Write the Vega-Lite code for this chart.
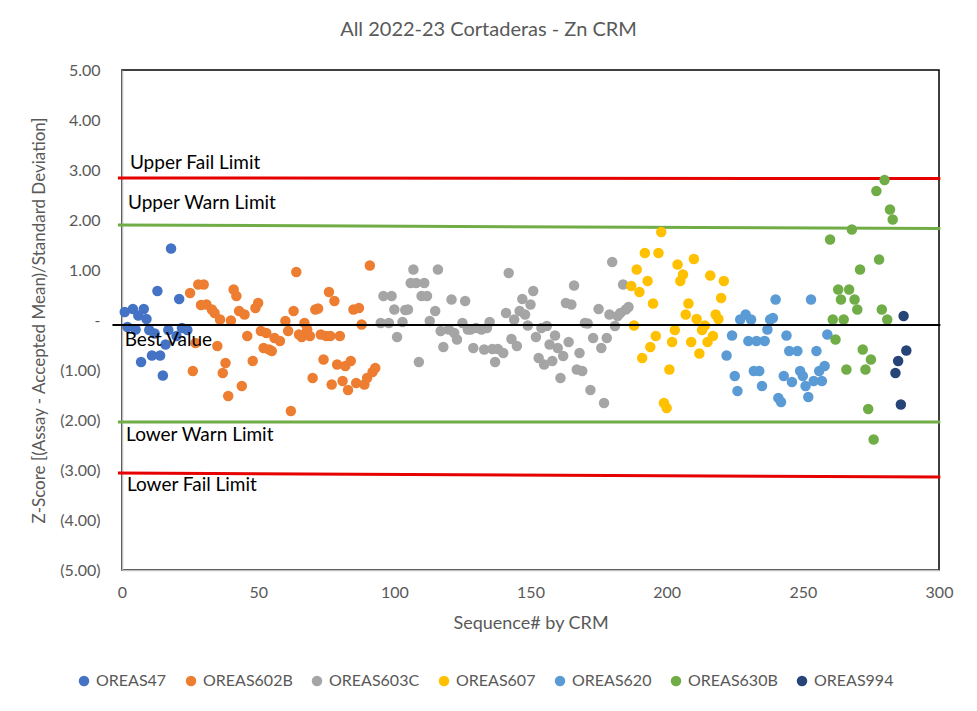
{
"$schema": "https://vega.github.io/schema/vega-lite/v6.json",
"width": 817, "height": 500,
"autosize": {"type": "none"},
"padding": {"left": 122, "top": 70, "right": 38, "bottom": 141},
"background": "white",
"config": {"view": {"stroke": "black", "strokeWidth": 1.5}, "font": "Lato"},
"title": {"text": "All 2022-23 Cortaderas - Zn CRM", "fontSize": 20, "font": "Lato", "color": "#595959", "fontWeight": "normal", "anchor": "middle", "dx": -42, "offset": 22},
"datasets": {
"pts": [
{"crm":"OREAS47","seq":1,"z":0.16},{"crm":"OREAS47","seq":2,"z":-0.14},{"crm":"OREAS47","seq":4,"z":0.22},{"crm":"OREAS47","seq":5,"z":-0.19},{"crm":"OREAS47","seq":6,"z":0.09},{"crm":"OREAS47","seq":7,"z":-0.84},{"crm":"OREAS47","seq":8,"z":0.22},{"crm":"OREAS47","seq":9,"z":0.02},{"crm":"OREAS47","seq":10,"z":-0.2},{"crm":"OREAS47","seq":11,"z":-0.71},{"crm":"OREAS47","seq":12,"z":-0.27},{"crm":"OREAS47","seq":13,"z":0.58},{"crm":"OREAS47","seq":14,"z":-0.71},{"crm":"OREAS47","seq":15,"z":-1.11},{"crm":"OREAS47","seq":16,"z":-0.49},{"crm":"OREAS47","seq":17,"z":-0.2},{"crm":"OREAS47","seq":18,"z":1.43},{"crm":"OREAS47","seq":20,"z":-0.32},{"crm":"OREAS47","seq":21,"z":0.42},{"crm":"OREAS47","seq":22,"z":-0.16},{"crm":"OREAS47","seq":24,"z":-0.2},
{"crm":"OREAS602B","seq":25,"z":0.54},{"crm":"OREAS602B","seq":26,"z":-1.02},{"crm":"OREAS602B","seq":27,"z":-0.46},{"crm":"OREAS602B","seq":28,"z":0.71},{"crm":"OREAS602B","seq":29,"z":0.3},{"crm":"OREAS602B","seq":30,"z":0.71},{"crm":"OREAS602B","seq":31,"z":0.31},{"crm":"OREAS602B","seq":33,"z":0.21},{"crm":"OREAS602B","seq":34,"z":0.14},{"crm":"OREAS602B","seq":35,"z":-0.52},{"crm":"OREAS602B","seq":36,"z":0.01},{"crm":"OREAS602B","seq":37,"z":-1.06},{"crm":"OREAS602B","seq":38,"z":-0.86},{"crm":"OREAS602B","seq":39,"z":-1.52},{"crm":"OREAS602B","seq":40,"z":-0.01},{"crm":"OREAS602B","seq":41,"z":0.61},{"crm":"OREAS602B","seq":42,"z":0.48},{"crm":"OREAS602B","seq":43,"z":0.18},{"crm":"OREAS602B","seq":44,"z":-1.32},{"crm":"OREAS602B","seq":45,"z":0.11},{"crm":"OREAS602B","seq":46,"z":-0.32},{"crm":"OREAS602B","seq":48,"z":-0.82},{"crm":"OREAS602B","seq":49,"z":0.24},{"crm":"OREAS602B","seq":50,"z":0.34},{"crm":"OREAS602B","seq":51,"z":-0.22},{"crm":"OREAS602B","seq":52,"z":-0.56},{"crm":"OREAS602B","seq":53,"z":-0.26},{"crm":"OREAS602B","seq":54,"z":-0.59},{"crm":"OREAS602B","seq":55,"z":-0.62},{"crm":"OREAS602B","seq":56,"z":-0.36},{"crm":"OREAS602B","seq":58,"z":-0.42},{"crm":"OREAS602B","seq":60,"z":-0.02},{"crm":"OREAS602B","seq":61,"z":-0.22},{"crm":"OREAS602B","seq":62,"z":-1.82},{"crm":"OREAS602B","seq":63,"z":0.18},{"crm":"OREAS602B","seq":64,"z":0.96},{"crm":"OREAS602B","seq":65,"z":-0.29},{"crm":"OREAS602B","seq":66,"z":-0.34},{"crm":"OREAS602B","seq":67,"z":-0.06},{"crm":"OREAS602B","seq":68,"z":-0.19},{"crm":"OREAS602B","seq":69,"z":-0.32},{"crm":"OREAS602B","seq":70,"z":-1.16},{"crm":"OREAS602B","seq":71,"z":0.21},{"crm":"OREAS602B","seq":72,"z":0.23},{"crm":"OREAS602B","seq":73,"z":-0.29},{"crm":"OREAS602B","seq":74,"z":-0.79},{"crm":"OREAS602B","seq":75,"z":-0.32},{"crm":"OREAS602B","seq":76,"z":0.56},{"crm":"OREAS602B","seq":76.5,"z":-0.32},{"crm":"OREAS602B","seq":77,"z":-1.29},{"crm":"OREAS602B","seq":78,"z":0.38},{"crm":"OREAS602B","seq":79,"z":-0.89},{"crm":"OREAS602B","seq":80,"z":-0.32},{"crm":"OREAS602B","seq":81,"z":-1.22},{"crm":"OREAS602B","seq":82,"z":-0.92},{"crm":"OREAS602B","seq":83,"z":-1.4},{"crm":"OREAS602B","seq":84,"z":-0.82},{"crm":"OREAS602B","seq":85,"z":0.21},{"crm":"OREAS602B","seq":86,"z":-1.26},{"crm":"OREAS602B","seq":87,"z":0.24},{"crm":"OREAS602B","seq":88,"z":-0.09},{"crm":"OREAS602B","seq":89,"z":-1.29},{"crm":"OREAS602B","seq":90,"z":-1.16},{"crm":"OREAS602B","seq":91,"z":1.09},{"crm":"OREAS602B","seq":92,"z":-1.04},{"crm":"OREAS602B","seq":93,"z":-0.96},
{"crm":"OREAS603C","seq":95,"z":-0.06},{"crm":"OREAS603C","seq":96,"z":0.48},{"crm":"OREAS603C","seq":98,"z":-0.06},{"crm":"OREAS603C","seq":99,"z":0.48},{"crm":"OREAS603C","seq":100,"z":0.21},{"crm":"OREAS603C","seq":101,"z":-0.34},{"crm":"OREAS603C","seq":103,"z":-0.04},{"crm":"OREAS603C","seq":104,"z":0.2},{"crm":"OREAS603C","seq":105,"z":0.21},{"crm":"OREAS603C","seq":106,"z":0.74},{"crm":"OREAS603C","seq":107,"z":1.01},{"crm":"OREAS603C","seq":108,"z":0.74},{"crm":"OREAS603C","seq":109,"z":-0.84},{"crm":"OREAS603C","seq":110,"z":0.48},{"crm":"OREAS603C","seq":111,"z":0.74},{"crm":"OREAS603C","seq":112,"z":0.48},{"crm":"OREAS603C","seq":113,"z":-0.02},{"crm":"OREAS603C","seq":115,"z":0.18},{"crm":"OREAS603C","seq":116,"z":1.01},{"crm":"OREAS603C","seq":117,"z":-0.22},{"crm":"OREAS603C","seq":118,"z":-0.54},{"crm":"OREAS603C","seq":120,"z":-0.19},{"crm":"OREAS603C","seq":121,"z":0.41},{"crm":"OREAS603C","seq":122,"z":-0.26},{"crm":"OREAS603C","seq":123,"z":-0.39},{"crm":"OREAS603C","seq":125,"z":-0.06},{"crm":"OREAS603C","seq":126,"z":0.38},{"crm":"OREAS603C","seq":127,"z":-0.19},{"crm":"OREAS603C","seq":128,"z":-0.19},{"crm":"OREAS603C","seq":129,"z":-0.56},{"crm":"OREAS603C","seq":130,"z":-0.16},{"crm":"OREAS603C","seq":132,"z":-0.19},{"crm":"OREAS603C","seq":133,"z":-0.59},{"crm":"OREAS603C","seq":134,"z":-0.16},{"crm":"OREAS603C","seq":135,"z":-0.04},{"crm":"OREAS603C","seq":136,"z":-0.58},{"crm":"OREAS603C","seq":137,"z":-0.84},{"crm":"OREAS603C","seq":138,"z":-0.58},{"crm":"OREAS603C","seq":140,"z":-0.66},{"crm":"OREAS603C","seq":141,"z":0.14},{"crm":"OREAS603C","seq":142,"z":0.94},{"crm":"OREAS603C","seq":143,"z":-0.38},{"crm":"OREAS603C","seq":144,"z":0.01},{"crm":"OREAS603C","seq":145,"z":-0.52},{"crm":"OREAS603C","seq":146,"z":0.18},{"crm":"OREAS603C","seq":147,"z":0.42},{"crm":"OREAS603C","seq":148,"z":0.11},{"crm":"OREAS603C","seq":149,"z":-0.11},{"crm":"OREAS603C","seq":150,"z":0.31},{"crm":"OREAS603C","seq":151,"z":0.58},{"crm":"OREAS603C","seq":152,"z":-0.34},{"crm":"OREAS603C","seq":153,"z":-0.76},{"crm":"OREAS603C","seq":154,"z":-0.16},{"crm":"OREAS603C","seq":155,"z":-0.89},{"crm":"OREAS603C","seq":156,"z":-0.12},{"crm":"OREAS603C","seq":157,"z":-0.49},{"crm":"OREAS603C","seq":158,"z":-0.82},{"crm":"OREAS603C","seq":159,"z":-0.31},{"crm":"OREAS603C","seq":160,"z":-0.56},{"crm":"OREAS603C","seq":161,"z":-1.16},{"crm":"OREAS603C","seq":162,"z":-0.72},{"crm":"OREAS603C","seq":163,"z":0.34},{"crm":"OREAS603C","seq":164,"z":-0.44},{"crm":"OREAS603C","seq":165,"z":0.31},{"crm":"OREAS603C","seq":166,"z":0.69},{"crm":"OREAS603C","seq":167,"z":-0.99},{"crm":"OREAS603C","seq":168,"z":-0.66},{"crm":"OREAS603C","seq":169,"z":-1.02},{"crm":"OREAS603C","seq":170,"z":-0.06},{"crm":"OREAS603C","seq":171,"z":-0.07},{"crm":"OREAS603C","seq":172,"z":-1.4},{"crm":"OREAS603C","seq":173,"z":-0.36},{"crm":"OREAS603C","seq":175,"z":0.22},{"crm":"OREAS603C","seq":176,"z":-0.56},{"crm":"OREAS603C","seq":177,"z":-1.66},{"crm":"OREAS603C","seq":178,"z":-0.36},{"crm":"OREAS603C","seq":179,"z":0.11},{"crm":"OREAS603C","seq":180,"z":1.16},{"crm":"OREAS603C","seq":181,"z":-0.12},{"crm":"OREAS603C","seq":182,"z":0.08},{"crm":"OREAS603C","seq":183,"z":0.14},{"crm":"OREAS603C","seq":184,"z":0.71},{"crm":"OREAS603C","seq":185,"z":0.21},{"crm":"OREAS603C","seq":186,"z":0.26},
{"crm":"OREAS607","seq":187,"z":0.68},{"crm":"OREAS607","seq":188,"z":-0.11},{"crm":"OREAS607","seq":189,"z":1.01},{"crm":"OREAS607","seq":190,"z":0.56},{"crm":"OREAS607","seq":191,"z":-0.76},{"crm":"OREAS607","seq":192,"z":1.34},{"crm":"OREAS607","seq":193,"z":0.78},{"crm":"OREAS607","seq":194,"z":-0.54},{"crm":"OREAS607","seq":195,"z":0.33},{"crm":"OREAS607","seq":196,"z":-0.32},{"crm":"OREAS607","seq":197,"z":1.34},{"crm":"OREAS607","seq":198,"z":1.76},{"crm":"OREAS607","seq":199,"z":-1.66},{"crm":"OREAS607","seq":200,"z":-1.76},{"crm":"OREAS607","seq":201,"z":-0.99},{"crm":"OREAS607","seq":202,"z":-0.44},{"crm":"OREAS607","seq":203,"z":-0.2},{"crm":"OREAS607","seq":204,"z":1.11},{"crm":"OREAS607","seq":205,"z":0.78},{"crm":"OREAS607","seq":206,"z":0.91},{"crm":"OREAS607","seq":207,"z":0.11},{"crm":"OREAS607","seq":208,"z":0.33},{"crm":"OREAS607","seq":209,"z":-0.44},{"crm":"OREAS607","seq":210,"z":1.22},{"crm":"OREAS607","seq":211,"z":0.02},{"crm":"OREAS607","seq":212,"z":-0.67},{"crm":"OREAS607","seq":213,"z":-0.2},{"crm":"OREAS607","seq":214,"z":-0.11},{"crm":"OREAS607","seq":215,"z":-0.44},{"crm":"OREAS607","seq":216,"z":0.89},{"crm":"OREAS607","seq":217,"z":-0.32},{"crm":"OREAS607","seq":218,"z":0.11},{"crm":"OREAS607","seq":219,"z":0.02},{"crm":"OREAS607","seq":220,"z":0.44},{"crm":"OREAS607","seq":221,"z":0.78},
{"crm":"OREAS620","seq":222,"z":-0.71},{"crm":"OREAS620","seq":224,"z":-0.31},{"crm":"OREAS620","seq":225,"z":-1.12},{"crm":"OREAS620","seq":226,"z":-1.42},{"crm":"OREAS620","seq":227,"z":0.01},{"crm":"OREAS620","seq":229,"z":0.11},{"crm":"OREAS620","seq":230,"z":-0.42},{"crm":"OREAS620","seq":231,"z":0.01},{"crm":"OREAS620","seq":232,"z":-1.02},{"crm":"OREAS620","seq":233,"z":-0.42},{"crm":"OREAS620","seq":234,"z":-1.02},{"crm":"OREAS620","seq":235,"z":-1.32},{"crm":"OREAS620","seq":236,"z":-0.42},{"crm":"OREAS620","seq":237,"z":-0.19},{"crm":"OREAS620","seq":238,"z":0.01},{"crm":"OREAS620","seq":239,"z":0.04},{"crm":"OREAS620","seq":240,"z":0.41},{"crm":"OREAS620","seq":241,"z":-1.56},{"crm":"OREAS620","seq":242,"z":-1.64},{"crm":"OREAS620","seq":243,"z":-1.12},{"crm":"OREAS620","seq":244,"z":-0.31},{"crm":"OREAS620","seq":245,"z":-0.62},{"crm":"OREAS620","seq":246,"z":-1.24},{"crm":"OREAS620","seq":248,"z":-0.62},{"crm":"OREAS620","seq":249,"z":-1.02},{"crm":"OREAS620","seq":250,"z":-1.12},{"crm":"OREAS620","seq":251,"z":-1.32},{"crm":"OREAS620","seq":252,"z":-1.54},{"crm":"OREAS620","seq":253,"z":0.41},{"crm":"OREAS620","seq":254,"z":-1.22},{"crm":"OREAS620","seq":255,"z":-0.62},{"crm":"OREAS620","seq":256,"z":-1.02},{"crm":"OREAS620","seq":257,"z":-1.22},{"crm":"OREAS620","seq":258,"z":-0.92},{"crm":"OREAS620","seq":259,"z":-0.29},
{"crm":"OREAS630B","seq":260,"z":1.61},{"crm":"OREAS630B","seq":261,"z":0.01},{"crm":"OREAS630B","seq":262,"z":-0.39},{"crm":"OREAS630B","seq":263,"z":0.61},{"crm":"OREAS630B","seq":264,"z":0.41},{"crm":"OREAS630B","seq":265,"z":0.01},{"crm":"OREAS630B","seq":266,"z":-0.99},{"crm":"OREAS630B","seq":267,"z":0.61},{"crm":"OREAS630B","seq":268,"z":1.81},{"crm":"OREAS630B","seq":269,"z":0.41},{"crm":"OREAS630B","seq":270,"z":0.21},{"crm":"OREAS630B","seq":271,"z":1.01},{"crm":"OREAS630B","seq":272,"z":-0.59},{"crm":"OREAS630B","seq":273,"z":-0.99},{"crm":"OREAS630B","seq":274,"z":-1.78},{"crm":"OREAS630B","seq":275,"z":-0.79},{"crm":"OREAS630B","seq":276,"z":-2.39},{"crm":"OREAS630B","seq":277,"z":2.58},{"crm":"OREAS630B","seq":278,"z":1.21},{"crm":"OREAS630B","seq":279,"z":0.21},{"crm":"OREAS630B","seq":280,"z":2.8},{"crm":"OREAS630B","seq":281,"z":0.01},{"crm":"OREAS630B","seq":282,"z":2.21},{"crm":"OREAS630B","seq":283,"z":2.01},
{"crm":"OREAS994","seq":284,"z":-1.06},{"crm":"OREAS994","seq":285,"z":-0.82},{"crm":"OREAS994","seq":286,"z":-1.69},{"crm":"OREAS994","seq":287,"z":0.08},{"crm":"OREAS994","seq":288,"z":-0.61}
],
"limits": [
{"lim":"Upper Fail Limit","kind":"fail","seq":-1.5,"z":2.84},{"lim":"Upper Fail Limit","kind":"fail","seq":300.5,"z":2.83},
{"lim":"Lower Fail Limit","kind":"fail","seq":-1.5,"z":-3.06},{"lim":"Lower Fail Limit","kind":"fail","seq":300.5,"z":-3.14},
{"lim":"Upper Warn Limit","kind":"warn","seq":-1.5,"z":1.9},{"lim":"Upper Warn Limit","kind":"warn","seq":300.5,"z":1.83},
{"lim":"Lower Warn Limit","kind":"warn","seq":-1.5,"z":-2.04},{"lim":"Lower Warn Limit","kind":"warn","seq":300.5,"z":-2.04},
{"lim":"Best Value","kind":"best","seq":-3.5,"z":-0.1},{"lim":"Best Value","kind":"best","seq":300.5,"z":-0.1}
],
"labels": [
{"label":"Upper Fail Limit","seq":2.9,"z":3.15},
{"label":"Upper Warn Limit","seq":2.2,"z":2.35},
{"label":"Best Value","seq":1.0,"z":-0.39},
{"label":"Lower Warn Limit","seq":1.5,"z":-2.29},
{"label":"Lower Fail Limit","seq":1.8,"z":-3.29}
]
},
"encoding": {
"x": {"field": "seq", "type": "quantitative", "scale": {"domain": [0, 300], "nice": false},
 "axis": {"values": [0,50,100,150,200,250,300], "labelFlush": false, "ticks": false, "grid": false, "domainColor": "#bfbfbf", "domainWidth": 1.5, "labelPadding": 14, "labelFontSize": 16, "labelColor": "#595959", "labelFont": "Lato", "title": "Sequence# by CRM", "titleFontSize": 18, "titleColor": "#595959", "titleFont": "Lato", "titleFontWeight": "normal", "titlePadding": 14}},
"y": {"field": "z", "type": "quantitative", "scale": {"domain": [-5, 5], "nice": false},
 "axis": {"values": [-5,-4,-3,-2,-1,0,1,2,3,4,5], "labelFlush": false, "labelExpr": "datum.value == 0 ? '-' : (datum.value < 0 ? '(' + format(-datum.value, '.2f') + ')' : format(datum.value, '.2f'))", "ticks": false, "grid": false, "domainColor": "#bfbfbf", "domainWidth": 1.5, "labelPadding": 22, "labelFontSize": 16, "labelColor": "#595959", "labelFont": "Lato", "title": "Z-Score [(Assay - Accepted Mean)/Standard Deviation]", "titleFontSize": 17, "titleColor": "#595959", "titleFont": "Lato", "titleFontWeight": "normal", "titlePadding": 11}}
},
"layer": [
{"data": {"name": "limits"}, "transform": [{"filter": "datum.kind == 'fail'"}], "mark": {"type": "line", "color": "#e60000", "strokeWidth": 3}, "encoding": {"detail": {"field": "lim"}}},
{"data": {"name": "limits"}, "transform": [{"filter": "datum.kind == 'warn'"}], "mark": {"type": "line", "color": "#70ad47", "strokeWidth": 3}, "encoding": {"detail": {"field": "lim"}}},
{"data": {"name": "pts"}, "mark": {"type": "circle", "size": 110, "opacity": 1},
 "encoding": {"color": {"field": "crm", "type": "nominal",
  "scale": {"domain": ["OREAS47","OREAS602B","OREAS603C","OREAS607","OREAS620","OREAS630B","OREAS994"], "range": ["#4472c4","#ed7d31","#a5a5a5","#ffc000","#5b9bd5","#70ad47","#264478"]},
  "legend": {"orient": "none", "legendX": -46, "legendY": 603, "direction": "horizontal", "title": null, "symbolType": "circle", "symbolSize": 110, "symbolOpacity": 1, "labelFontSize": 16, "labelColor": "#595959", "labelFont": "Lato", "columnPadding": 16, "labelOffset": 4}}}},
{"data": {"name": "limits"}, "transform": [{"filter": "datum.kind == 'best'"}], "mark": {"type": "line", "color": "#000000", "strokeWidth": 2}, "encoding": {"detail": {"field": "lim"}}},
{"data": {"name": "labels"}, "mark": {"type": "text", "align": "left", "baseline": "middle", "fontSize": 19, "font": "Lato", "color": "#000000"}, "encoding": {"text": {"field": "label"}}}
]
}
